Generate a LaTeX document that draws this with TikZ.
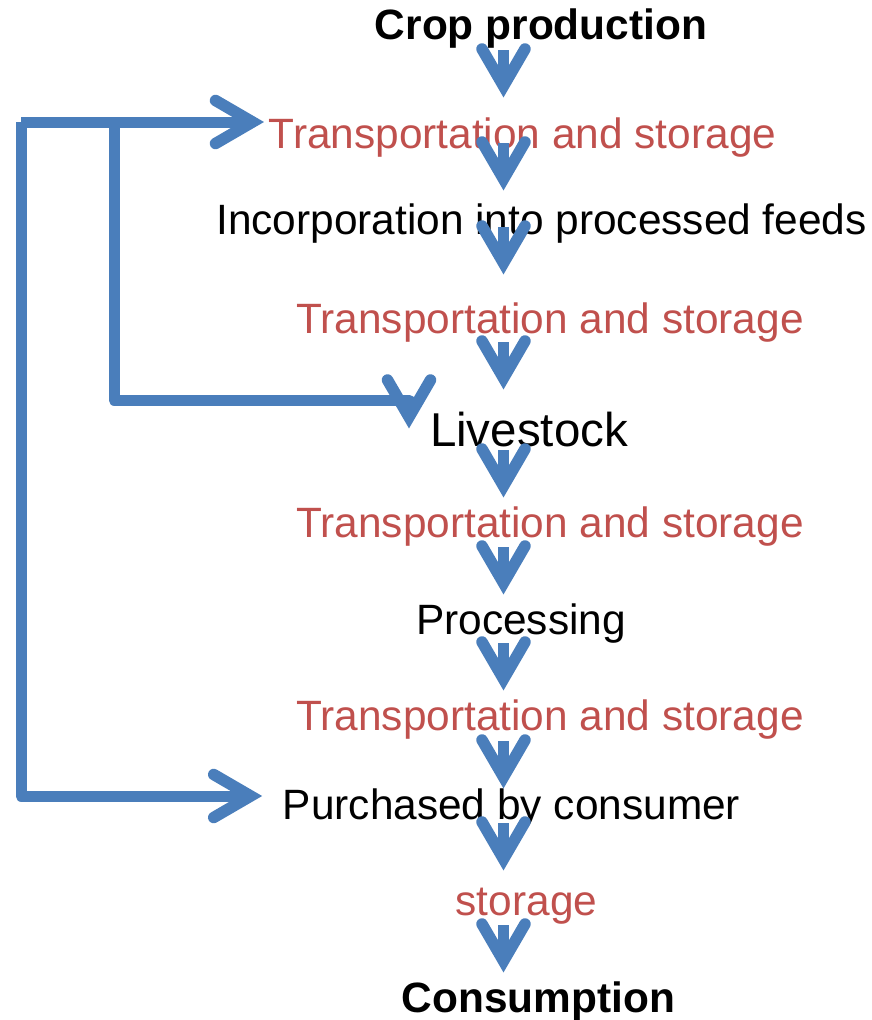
\documentclass[tikz,border=0pt]{standalone}
\usepackage{fontspec}
\setmainfont{Liberation Sans}
\usetikzlibrary{arrows.meta}
\definecolor{lnblue}{HTML}{4A7EBB}
\definecolor{txred}{HTML}{C0504D}
\pgfdeclarearrow{
  name = Wing,
  setup code = {
    \pgfarrowssettipend{0pt}
    \pgfarrowssetbackend{-54pt}
    \pgfarrowssetlineend{-11pt}
    \pgfarrowshullpoint{0pt}{0pt}
    \pgfarrowsupperhullpoint{-48pt}{27pt}
    \pgfarrowsupperhullpoint{-54pt}{21.5pt}
  },
  drawing code = {
    \pgfsetlinewidth{11.5pt}
    \pgfsetroundcap
    \pgfsetmiterjoin
    \pgfpathmoveto{\pgfpoint{-48pt}{21.5pt}}
    \pgfpathlineto{\pgfpoint{-11pt}{0pt}}
    \pgfpathlineto{\pgfpoint{-48pt}{-21.5pt}}
    \pgfusepathqstroke
  },
  defaults = {}
}
\begin{document}
\begin{tikzpicture}[x=1pt,y=-1pt,
  flow/.style={draw=lnblue, line width=11pt, -{Wing}},
  link/.style={draw=lnblue, line width=11pt, line join=round},
  lbl/.style={anchor=base, inner sep=0pt, font=\fontsize{42.4}{50}\selectfont},
  blk/.style={lbl, text=black},
  bld/.style={lbl, text=black, font=\fontsize{42.4}{50}\selectfont\bfseries},
  red/.style={lbl, text=txred}]
\useasboundingbox (0,0) rectangle (871,1020);
% nodes
\node[bld] (crop)  at (541,39)    {Crop production};
\node[red] (ts1)   at (522.5,148) {Transportation and storage};
\node[blk] (inc)   at (541.5,234) {Incorporation into processed feeds};
\node[red] (ts2)   at (550,333)   {Transportation and storage};
\node[blk, font=\fontsize{47.5}{56}\selectfont] (live) at (529,446) {Livestock};
\node[red] (ts3)   at (550,537)   {Transportation and storage};
\node[blk] (proc)  at (521,634)   {Processing};
\node[red] (ts4)   at (550,730)   {Transportation and storage};
\node[blk] (purch) at (511.5,819) {Purchased by consumer};
\node[red] (stor)  at (526.5,915) {storage};
\node[bld] (cons)  at (538.5,1012) {Consumption};
% main flow arrows
\draw[flow] ([shift={(-37.5,11)}]crop.base) -- ([shift={(-19,-51)}]ts1.base);
\draw[flow] ([shift={(-19,-5)}]ts1.base)    -- ([shift={(-38,-44)}]inc.base);
\draw[flow] ([shift={(-38,-7)}]inc.base)    -- ([shift={(-46.5,-59)}]ts2.base);
\draw[flow] ([shift={(-46.5,9)}]ts2.base)   -- ([shift={(-25.5,-57)}]live.base);
\draw[flow] ([shift={(-25.5,4)}]live.base)  -- ([shift={(-46.5,-40)}]ts3.base);
\draw[flow] ([shift={(-46.5,10)}]ts3.base)  -- ([shift={(-17.5,-40)}]proc.base);
\draw[flow] ([shift={(-17.5,9)}]proc.base)  -- ([shift={(-46.5,-40)}]ts4.base);
\draw[flow] ([shift={(-46.5,11)}]ts4.base)  -- ([shift={(-8,-31)}]purch.base);
\draw[flow] ([shift={(-8,4)}]purch.base)    -- ([shift={(-23,-45)}]stor.base);
\draw[flow] ([shift={(-23,10)}]stor.base)   -- ([shift={(-35,-40)}]cons.base);
% bypass connectors
\coordinate (L)  at (21,122);
\coordinate (Lb) at (21,796);
\coordinate (M)  at (114,122);
\coordinate (Mb) at (114,400);
\coordinate (Mc) at (409,400);
\draw[link, -{Wing}, shorten >=5pt] (L) -- (L -| ts1.west);
\draw[link, -{Wing}, shorten >=21pt] (L) -- (Lb) -- (Lb -| purch.west);
\draw[link, -{Wing}] (M) -- (Mb) -- (Mc) -- ([shift={(-120,-18)}]live.base);
\end{tikzpicture}
\end{document}
